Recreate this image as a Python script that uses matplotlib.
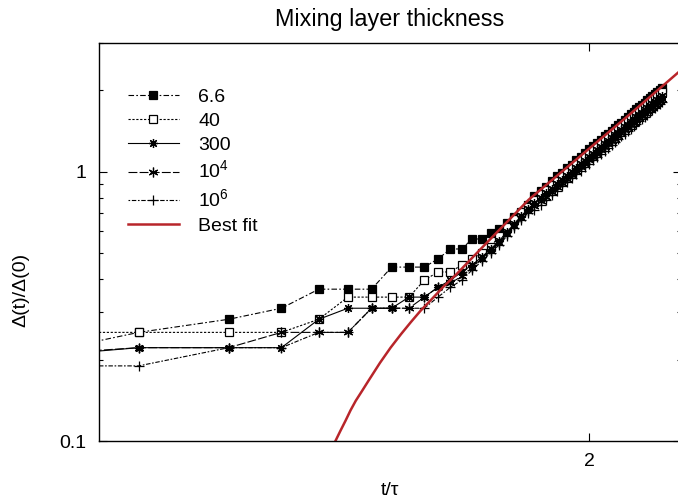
import matplotlib
matplotlib.use('Agg')
import matplotlib.pyplot as plt
from matplotlib.ticker import FixedLocator, NullLocator, NullFormatter
import numpy as np

plt.rcParams.update({'font.size': 14})
plt.rcParams['font.family'] = ['Liberation Sans', 'DejaVu Sans']
plt.rcParams['mathtext.fontset'] = 'custom'
plt.rcParams['mathtext.rm'] = 'Liberation Sans'

# sample index -> time step dt = 1/16 (in units of tau)
steps = [0.5] + list(range(1, 57))
dt = 0.0625

d_66 = [0.215, 0.253, 0.283, 0.311, 0.366, 0.366, 0.366, 0.442, 0.442, 0.442, 0.474,
        0.516, 0.516, 0.562, 0.562, 0.592, 0.613, 0.645, 0.679, 0.703, 0.753,
        0.81, 0.85, 0.88, 0.92, 0.96, 0.99, 1.03, 1.06, 1.10, 1.13, 1.17, 1.21, 1.24,
        1.28, 1.31, 1.35, 1.38, 1.42, 1.45, 1.49, 1.52, 1.56, 1.59, 1.63, 1.66, 1.70,
        1.73, 1.77, 1.80, 1.84, 1.87, 1.91, 1.94, 1.98, 2.01, 2.05]
d_40 = [0.253, 0.253, 0.253, 0.253, 0.283, 0.342, 0.342, 0.342, 0.342, 0.395, 0.424,
        0.424, 0.450, 0.474, 0.499, 0.525, 0.577, 0.623, 0.668, 0.709, 0.740,
        0.787, 0.822, 0.857, 0.892, 0.926, 0.962, 0.996, 1.031, 1.066, 1.100, 1.135,
        1.168, 1.203, 1.236, 1.271, 1.305, 1.339, 1.373, 1.406, 1.441, 1.475, 1.508,
        1.542, 1.575, 1.609, 1.643, 1.676, 1.710, 1.742, 1.776, 1.810, 1.842, 1.876,
        1.909, 1.942, 1.976]
d_300 = [0.208, 0.222, 0.222, 0.222, 0.283, 0.311, 0.311, 0.311, 0.342, 0.342, 0.372,
         0.395, 0.424, 0.450, 0.482, 0.516, 0.553, 0.597, 0.640, 0.685, 0.728,
         0.763, 0.796, 0.830, 0.864, 0.897, 0.932, 0.965, 0.999, 1.032, 1.066, 1.099,
         1.132, 1.165, 1.198, 1.231, 1.264, 1.297, 1.330, 1.362, 1.396, 1.428, 1.461,
         1.494, 1.526, 1.559, 1.591, 1.624, 1.656, 1.688, 1.721, 1.753, 1.785, 1.817,
         1.850, 1.881, 1.914]
d_1e4 = [0.211, 0.222, 0.222, 0.253, 0.253, 0.253, 0.311, 0.311, 0.311, 0.342, 0.372,
         0.385, 0.409, 0.438, 0.474, 0.507, 0.543, 0.587, 0.629, 0.674, 0.715,
         0.742, 0.775, 0.808, 0.841, 0.873, 0.907, 0.939, 0.972, 1.005, 1.037, 1.070,
         1.101, 1.134, 1.166, 1.198, 1.230, 1.262, 1.294, 1.326, 1.358, 1.390, 1.422,
         1.453, 1.485, 1.517, 1.548, 1.580, 1.612, 1.643, 1.674, 1.706, 1.737, 1.768,
         1.800, 1.831, 1.862]
d_1e6 = [0.190, 0.190, 0.222, 0.222, 0.253, 0.253, 0.311, 0.311, 0.311, 0.311, 0.342,
         0.372, 0.395, 0.431, 0.465, 0.499, 0.534, 0.577, 0.618, 0.662, 0.703,
         0.722, 0.753, 0.786, 0.818, 0.849, 0.882, 0.913, 0.945, 0.977, 1.008, 1.040,
         1.071, 1.103, 1.133, 1.165, 1.196, 1.228, 1.258, 1.289, 1.321, 1.352, 1.382,
         1.413, 1.444, 1.475, 1.506, 1.536, 1.567, 1.597, 1.628, 1.659, 1.689, 1.720,
         1.750, 1.780, 1.811]

fit_t = [0.284, 0.295, 0.307, 0.319, 0.332, 0.348, 0.367, 0.400, 0.434, 0.470,
         0.507, 0.546, 0.591, 0.652, 0.716, 0.868, 1.255, 1.844, 2.709, 4.20]
fit_v = [0.100, 0.109, 0.119, 0.130, 0.141, 0.153, 0.168, 0.195, 0.222, 0.249,
         0.276, 0.304, 0.333, 0.374, 0.413, 0.516, 0.786, 1.128, 1.618, 2.465]

t = np.array(steps) * dt

fig = plt.figure(figsize=(6.78, 5.01), dpi=100)
ax = fig.add_axes([99 / 678, 1 - 441 / 501, 582 / 678, (441 - 43) / 501])

styles = [
    (d_66, '6.6', dict(marker='s', ms=5.2, mfc='black', ls=(0, (5, 2, 1.5, 2)))),
    (d_40, '40', dict(marker='s', ms=5.4, mfc='white', ls=(0, (2, 1.5)))),
    (d_300, '300', dict(marker=(8, 2, 0), ms=6.5, ls='-')),
    (d_1e4, r'10$^4$', dict(marker=(6, 2, 0), ms=7, ls=(0, (8, 2)))),
    (d_1e6, r'10$^6$', dict(marker='+', ms=7, ls=(0, (1.5, 1.5, 4, 1.5)))),
]
for vals, lab, kw in styles:
    ax.plot(t, vals, color='black', lw=0.8, mec='black', mew=0.9, label=lab, **kw)

ax.plot(fit_t, fit_v, color='#b8252a', lw=1.8, label='Best fit')

ax.set_xscale('log')
ax.set_yscale('log')
ax.set_xlim(0.0461, 4.05)
ax.set_ylim(0.1, 3.0)

ax.xaxis.set_major_locator(FixedLocator([2]))
ax.xaxis.set_minor_locator(NullLocator())
ax.set_xticklabels(['2'])
ax.yaxis.set_major_locator(FixedLocator([0.1, 1]))
ax.set_yticklabels(['0.1', '1'])
ax.yaxis.set_minor_locator(FixedLocator([0.2, 0.3, 0.4, 0.5, 0.6, 0.7, 0.8, 0.9, 2, 3]))
ax.yaxis.set_minor_formatter(NullFormatter())

ax.tick_params(which='major', direction='in', length=6, width=0.8, top=True, right=True, pad=9)
ax.tick_params(which='minor', direction='in', length=3, width=0.8, top=True, right=True)
for s in ax.spines.values():
    s.set_linewidth(1.0)

ax.set_title('Mixing layer thickness', pad=12)
ax.set_xlabel('t/\u03c4', labelpad=8)
ax.set_ylabel('\u0394(t)/\u0394(0)')
ax.yaxis.set_label_coords(-0.12, 0.38)

ax.legend(loc='upper left', bbox_to_anchor=(0.02, 0.93), frameon=False,
          handlelength=2.6, handletextpad=1.0, labelspacing=0.32, numpoints=1)

fig.savefig('out.png', dpi=100)
